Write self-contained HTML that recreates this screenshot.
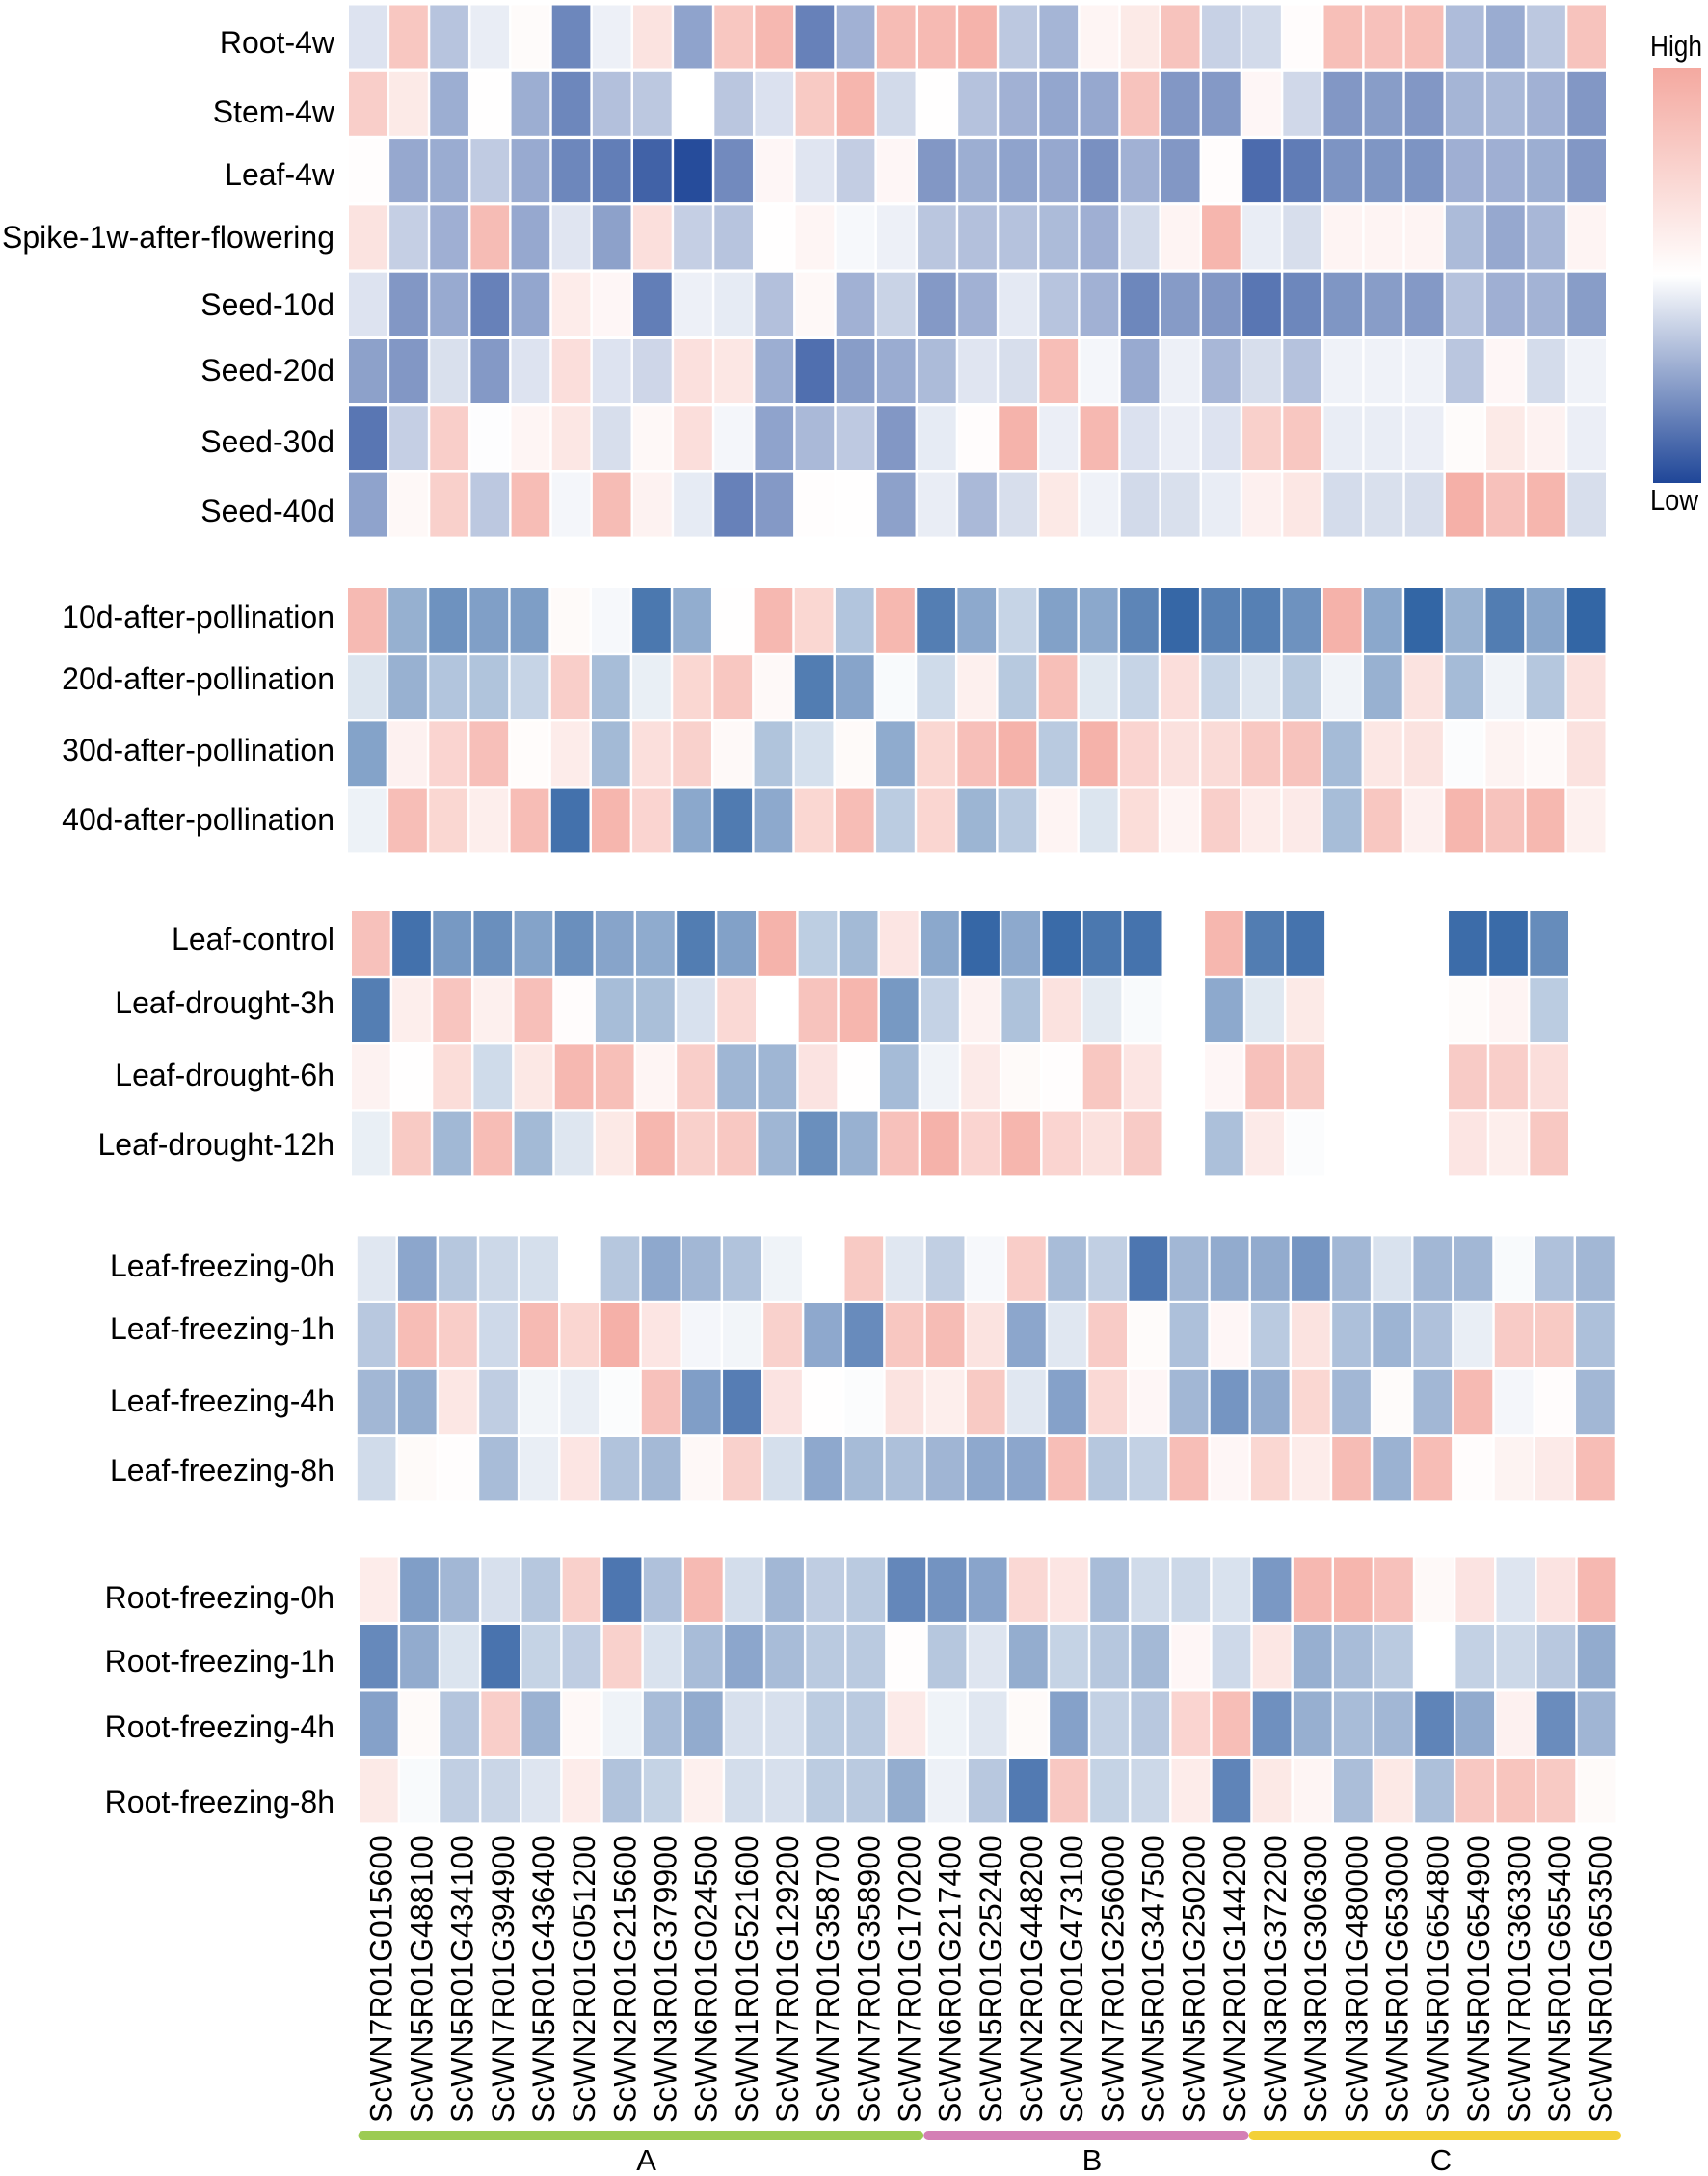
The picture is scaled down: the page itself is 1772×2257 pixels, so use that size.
<!DOCTYPE html>
<html lang="en">
<head>
<meta charset="utf-8">
<title>ScWN gene expression heatmap</title>
<style>
html,body{margin:0;padding:0;background:#fff;}
#chart{display:block;width:1772px;height:2257px;}
text{font-family:"Liberation Sans",Arial,sans-serif;fill:#000;}
</style>
</head>
<body>
<svg id="chart" xmlns="http://www.w3.org/2000/svg" width="1772" height="2257" viewBox="0 0 1772 2257">
  <defs>
    <linearGradient id="legendGradient" x1="0" y1="0" x2="0" y2="1">
      <stop offset="0" stop-color="#f4a9a0"/>
      <stop offset="0.5" stop-color="#ffffff"/>
      <stop offset="1" stop-color="#1f4698"/>
    </linearGradient>
  </defs>
  <rect x="0" y="0" width="1772" height="2257" fill="#ffffff"/>
  <text x="1712" y="58" font-size="31" textLength="54" lengthAdjust="spacingAndGlyphs">High</text>
  <rect x="1715" y="71" width="50" height="430" fill="url(#legendGradient)"/>
  <text x="1712" y="529" font-size="31" textLength="50" lengthAdjust="spacingAndGlyphs">Low</text>
</svg>
<script>
const genes = ["ScWN7R01G015600","ScWN5R01G488100","ScWN5R01G434100","ScWN7R01G394900","ScWN5R01G436400","ScWN2R01G051200","ScWN2R01G215600","ScWN3R01G379900","ScWN6R01G024500","ScWN1R01G521600","ScWN7R01G129200","ScWN7R01G358700","ScWN7R01G358900","ScWN7R01G170200","ScWN6R01G217400","ScWN5R01G252400","ScWN2R01G448200","ScWN2R01G473100","ScWN7R01G256000","ScWN5R01G347500","ScWN5R01G250200","ScWN2R01G144200","ScWN3R01G372200","ScWN3R01G306300","ScWN3R01G480000","ScWN5R01G653000","ScWN5R01G654800","ScWN5R01G654900","ScWN7R01G363300","ScWN5R01G655400","ScWN5R01G653500"];

const tissueRows = ["Root-4w","Stem-4w","Leaf-4w","Spike-1w-after-flowering","Seed-10d","Seed-20d","Seed-30d","Seed-40d"];
const tissueValues = [
[-15,65,-32,-10,5,-65,-8,33,-50,65,82,-68,-42,78,80,88,-30,-40,12,25,70,-25,-20,3,75,72,75,-36,-45,-30,70],
[57,25,-44,1,-44,-65,-34,-30,0,-31,-16,62,85,-20,1,-33,-42,-48,-47,70,-56,-55,10,-21,-56,-53,-56,-40,-38,-42,-56],
[2,-47,-45,-28,-46,-65,-70,-85,-97,-63,10,-14,-27,10,-56,-44,-50,-47,-60,-42,-56,3,-80,-71,-58,-57,-58,-43,-43,-44,-56],
[33,-26,-43,78,-47,-14,-51,37,-26,-32,1,12,-4,-8,-31,-34,-33,-37,-43,-20,13,85,-10,-18,13,13,13,-37,-47,-39,13],
[-15,-56,-46,-68,-48,22,10,-70,-8,-11,-34,8,-42,-24,-55,-42,-12,-32,-42,-65,-54,-56,-74,-65,-57,-53,-55,-33,-43,-41,-53],
[-51,-56,-17,-55,-15,38,-15,-22,36,28,-44,-78,-53,-45,-37,-14,-18,76,-5,-46,-8,-39,-18,-33,-7,-7,-7,-31,10,-19,-7],
[-74,-26,57,-1,12,28,-18,8,38,-5,-50,-38,-29,-56,-11,3,88,-9,82,-16,-9,-15,55,65,-10,-10,-9,5,25,15,-9],
[-50,8,55,-30,77,-5,78,15,-11,-68,-55,2,1,-51,-10,-38,-18,26,-7,-20,-17,-10,17,28,-19,-17,-18,92,72,85,-18]
];

const pollinationRows = ["10d-after-pollination","20d-after-pollination","30d-after-pollination","40d-after-pollination"];
const pollinationValues = [
[80,-48,-66,-58,-59,6,-4,-82,-50,1,82,47,-35,83,-78,-52,-26,-57,-53,-74,-92,-76,-77,-66,90,-53,-93,-46,-79,-54,-93],
[-16,-47,-35,-36,-26,57,-40,-10,47,65,7,-79,-55,-3,-22,18,-33,75,-14,-26,38,-26,-15,-33,-7,-47,33,-41,-7,-34,35],
[-56,16,50,74,4,22,-42,37,54,7,-36,-19,6,-51,47,74,89,-32,90,50,35,42,64,70,-41,28,33,-2,14,7,34],
[-8,76,47,20,77,-86,85,50,-53,-80,-52,47,77,-31,48,-45,-32,13,-16,40,13,56,22,24,-40,65,17,85,70,83,18]
];

const droughtRows = ["Leaf-control","Leaf-drought-3h","Leaf-drought-6h","Leaf-drought-12h"];
const droughtValues = [
[72,-86,-62,-68,-56,-68,-55,-51,-79,-57,88,-30,-42,30,-53,-92,-52,-90,-82,-85,null,84,-79,-85,null,null,null,-89,-90,-70],
[-78,20,67,18,74,3,-40,-39,-18,44,0,70,85,-62,-27,15,-37,34,-13,-3,null,-52,-14,25,null,null,null,5,13,-31],
[15,1,40,-22,27,82,75,12,57,-44,-44,32,1,-41,-7,24,6,2,65,30,null,10,72,62,null,null,null,60,57,38],
[-10,62,-43,77,-42,-15,26,84,55,64,-44,-68,-47,72,90,50,85,50,35,60,null,-38,24,-2,null,null,null,30,20,64]
];

const leafFreezingRows = ["Leaf-freezing-0h","Leaf-freezing-1h","Leaf-freezing-4h","Leaf-freezing-8h"];
const leafFreezingValues = [
[-14,-52,-33,-23,-19,0,-33,-51,-42,-35,-7,0,62,-14,-28,-4,58,-39,-28,-80,-42,-49,-49,-62,-42,-17,-42,-42,-3,-36,-42],
[-32,77,58,-22,80,48,92,30,-5,-6,54,-51,-68,65,78,33,-52,-14,60,5,-37,10,-31,33,-37,-44,-36,-10,60,62,-37],
[-42,-48,28,-29,-6,-10,-2,72,-57,-76,32,1,-2,33,20,62,-14,-55,44,10,-42,-62,-49,47,-42,5,-42,80,-5,3,-42],
[-21,6,2,-39,-10,30,-35,-41,8,54,-19,-51,-40,-37,-43,-51,-52,76,-33,-27,76,10,47,22,78,-45,77,3,14,24,77]
];

const rootFreezingRows = ["Root-freezing-0h","Root-freezing-1h","Root-freezing-4h","Root-freezing-8h"];
const rootFreezingValues = [
[22,-57,-42,-18,-33,55,-80,-36,80,-20,-42,-29,-31,-70,-63,-53,45,30,-39,-21,-23,-17,-60,82,85,72,7,32,-15,32,82],
[-69,-49,-16,-82,-26,-29,54,-17,-39,-52,-39,-31,-31,2,-33,-15,-48,-26,-33,-41,10,-22,28,-47,-39,-31,0,-27,-23,-32,-49],
[-55,6,-34,57,-45,8,-7,-39,-49,-18,-18,-30,-31,24,-7,-14,6,-55,-27,-32,50,76,-65,-47,-39,-42,-72,-49,16,-67,-43],
[25,-3,-28,-24,-15,22,-35,-26,18,-20,-18,-30,-31,-48,-8,-32,-78,64,-26,-23,22,-72,26,12,-38,26,-37,64,68,62,6]
];

const groupNames = ["A","B","C"];
const groupGeneCounts = [14,8,9];

const svg = document.getElementById('chart');
const NS = 'http://www.w3.org/2000/svg';

function mixChannel(end, t) {
  return Math.round(255 + (end - 255) * t);
}
function colorScale(value, low) {
  const high = [244, 169, 160];
  const end = value >= 0 ? high : low;
  const t = Math.min(1, Math.abs(value) / 100);
  return 'rgb(' + mixChannel(end[0], t) + ',' + mixChannel(end[1], t) + ',' + mixChannel(end[2], t) + ')';
}
function slug(text) {
  return text.toLowerCase().replace(/[^a-z0-9]+/g, '-');
}

function drawPanel(panelName, rows, values, left, right, top, pitchY, cellH, colCount, low, labelCenters) {
  const pitchX = (right - left + 2.5) / colCount;
  const group = document.createElementNS(NS, 'g');
  
  
  svg.appendChild(group);
  rows.forEach(function (rowName, r) {
    const label = document.createElementNS(NS, 'text');
    
    
    label.setAttribute('x', 347);
    label.setAttribute('y', labelCenters[r] + 11);
    label.setAttribute('text-anchor', 'end');
    label.setAttribute('font-size', 32);
    label.textContent = rowName;
    group.appendChild(label);
    values[r].forEach(function (value, c) {
      if (value === null) return;
      const cell = document.createElementNS(NS, 'rect');
      
      
      cell.setAttribute('x', (left + c * pitchX).toFixed(2));
      cell.setAttribute('y', (top + r * pitchY).toFixed(2));
      cell.setAttribute('width', (pitchX - 2.5).toFixed(2));
      cell.setAttribute('height', cellH);
      cell.setAttribute('fill', colorScale(value, low));
      group.appendChild(cell);
    });
  });
}

drawPanel('tissue-panel', tissueRows, tissueValues, 362, 1666, 5.5, 69.3, 66, 31, [31, 70, 152], [44, 116, 181, 246, 316, 384, 458, 530]);
drawPanel('pollination-panel', pollinationRows, pollinationValues, 361, 1665.5, 610, 69.2, 66.8, 31, [36, 90, 158], [640, 704, 778, 850]);
drawPanel('drought-panel', droughtRows, droughtValues, 365, 1627, 945, 69.2, 66.8, 30, [36, 90, 158], [974, 1040, 1115, 1187]);
drawPanel('leaf-freezing-panel', leafFreezingRows, leafFreezingValues, 370.8, 1674.7, 1282.4, 69.2, 66.4, 31, [33, 84, 156], [1313, 1378, 1453, 1525]);
drawPanel('root-freezing-panel', rootFreezingRows, rootFreezingValues, 373, 1676.4, 1615.5, 69.5, 66.4, 31, [33, 84, 156], [1657, 1723, 1791, 1869]);

function geneX(i) {
  return 394.8 + i * 42.17;
}
genes.forEach(function (gene, i) {
  const label = document.createElementNS(NS, 'text');
  
  
  label.setAttribute('font-size', 32);
  label.setAttribute('transform', 'translate(' + (geneX(i) + 11.5).toFixed(2) + ',2202) rotate(-90)');
  label.textContent = gene;
  svg.appendChild(label);
});

const groupColors = ['#9ccb53', '#d47fb5', '#f3d038'];
const groupLabelX = [670.6, 1133, 1495];
let groupStart = 0;
groupNames.forEach(function (name, g) {
  const x1 = g === 0 ? 371.5 : geneX(groupStart) - 27;
  const groupEnd = groupStart + groupGeneCounts[g];
  const x2 = g === groupNames.length - 1 ? 1682 : geneX(groupEnd) - 27;
  const bar = document.createElementNS(NS, 'rect');
  
  
  bar.setAttribute('x', x1.toFixed(2));
  bar.setAttribute('y', 2210);
  bar.setAttribute('width', (x2 - x1).toFixed(2));
  bar.setAttribute('height', 10);
  bar.setAttribute('rx', 5);
  bar.setAttribute('fill', groupColors[g]);
  svg.appendChild(bar);
  const label = document.createElementNS(NS, 'text');
  
  
  label.setAttribute('x', groupLabelX[g]);
  label.setAttribute('y', 2251);
  label.setAttribute('text-anchor', 'middle');
  label.setAttribute('font-size', 31);
  label.textContent = name;
  svg.appendChild(label);
  groupStart = groupEnd;
});
</script>
</body>
</html>
